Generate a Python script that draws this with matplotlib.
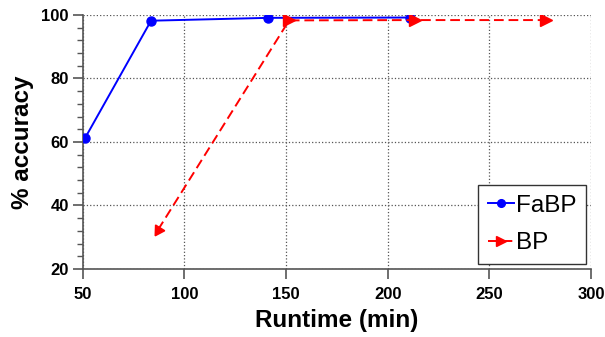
import numpy as np
import matplotlib
matplotlib.use("Agg")
import matplotlib.pyplot as plt
from matplotlib.ticker import MultipleLocator

plt.rcParams['font.family'] = ['Liberation Sans', 'DejaVu Sans']

fabp_x = [51.3, 83.6, 141.1, 211.0]
fabp_y = [61.4, 98.2, 99.1, 99.2]
bp_x = [87.0, 151.5, 213.5, 278.0]
bp_y = [32.3, 98.3, 98.4, 98.4]

fig = plt.figure(figsize=(6.05, 3.37), dpi=100)
ax = fig.add_axes([0.1367, 0.2018, 0.977 - 0.1367, 0.9555 - 0.2018])

ax.set_xlim(50, 300)
ax.set_ylim(20, 100)

ax.plot(fabp_x, fabp_y, '-o', color='blue', lw=1.4, ms=6.5, label='FaBP', zorder=3)
ax.plot(bp_x, bp_y, '--', color='red', lw=1.4, dashes=(5, 2.5), marker='>', ms=9,
        markevery=[1, 2, 3], label='BP', zorder=3)

# first BP point: arrow head pointing back along the segment
p0 = ax.transData.transform((bp_x[0], bp_y[0]))
p1 = ax.transData.transform((bp_x[1], bp_y[1]))
ang = np.degrees(np.arctan2(p0[1] - p1[1], p0[0] - p1[0]))
ax.plot(bp_x[0], bp_y[0], color='red', ms=9, ls='none',
        marker=(3, 0, ang - 90), zorder=3)

ax.set_xticks([50, 100, 150, 200, 250, 300])
ax.set_yticks([20, 40, 60, 80, 100])
ax.yaxis.set_minor_locator(MultipleLocator(4))
ax.grid(True, which='major', ls=':', color='#555555', lw=0.9)
ax.set_axisbelow(True)

for s in ['top', 'right']:
    ax.spines[s].set_visible(False)
for s in ['left', 'bottom']:
    ax.spines[s].set_color('#555555')
    ax.spines[s].set_linewidth(1.2)
ax.tick_params(axis='x', which='major', direction='out', length=7, width=1.2,
               color='#555555', labelsize=12, pad=6)
ax.tick_params(axis='y', which='major', direction='out', length=7, width=1.2,
               color='#555555', labelsize=12, pad=3)
ax.tick_params(axis='y', which='minor', direction='out', length=4, width=1.0,
               color='#555555')
for lab in ax.get_xticklabels() + ax.get_yticklabels():
    lab.set_fontweight('bold')

ax.set_xlabel('Runtime (min)', fontsize=17.5, fontweight='bold', labelpad=5)
ax.set_ylabel('% accuracy', fontsize=17.5, fontweight='bold', labelpad=5)

leg = ax.legend(loc='lower right', fontsize=17.5, frameon=True, fancybox=False,
                edgecolor='#333333', framealpha=1, handlelength=1.05,
                handletextpad=0.1, borderpad=0.4, labelspacing=0.65,
                borderaxespad=0.2, markerscale=0.85)
leg.get_frame().set_linewidth(1.0)

fig.savefig('out.png', dpi=100)
